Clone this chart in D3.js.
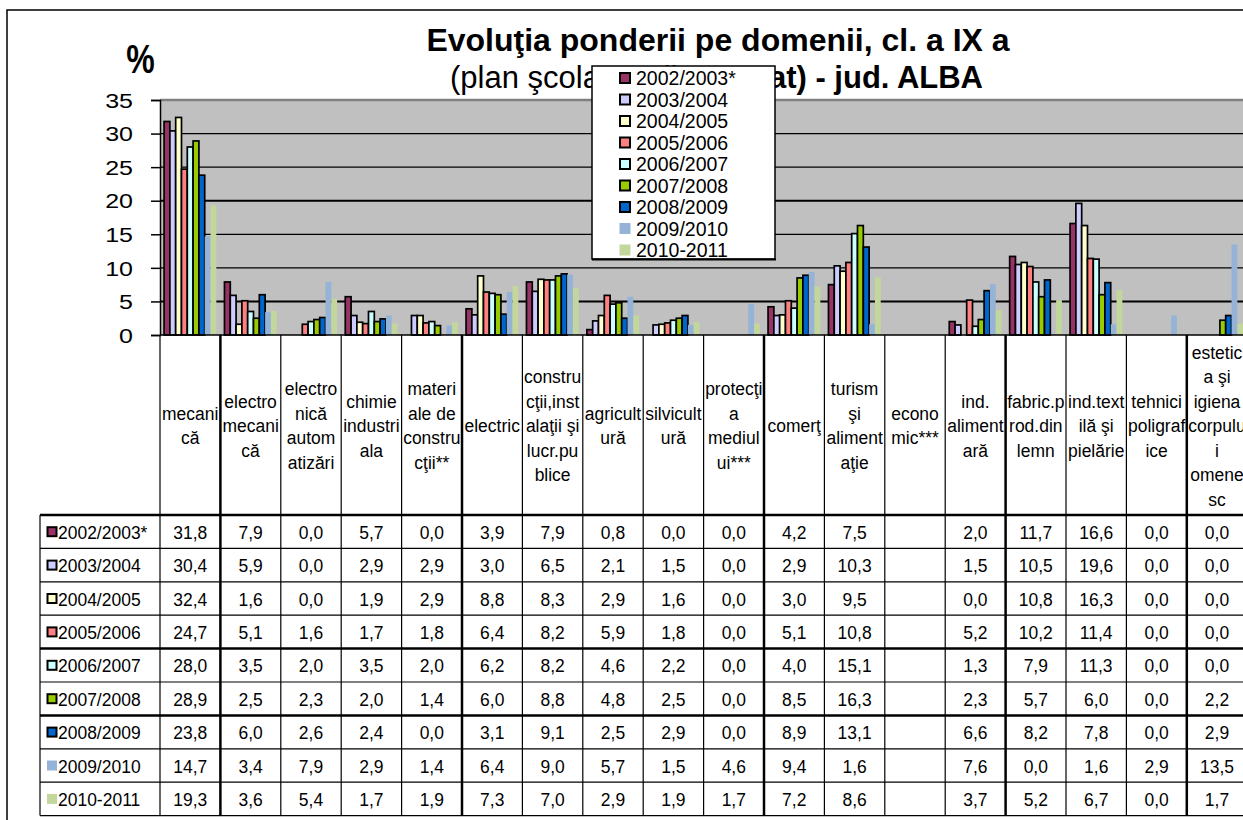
<!DOCTYPE html>
<html>
<head>
<meta charset="utf-8">
<script src="https://cdn.jsdelivr.net/npm/d3@7"></script>
<style>
  body { margin: 0; background: #fff; }
  svg { display: block; }
  text { font-family: Arial, "Liberation Sans", sans-serif; fill: #000; }
</style>
</head>
<body>
<div id="chart"></div>
<script>
// domenii (header text already broken into lines like in the sheet)
let domains = [
  ['mecani', 'că'],
  ['electro', 'mecani', 'că'],
  ['electro', 'nică', 'autom', 'atizări'],
  ['chimie', 'industri', 'ala'],
  ['materi', 'ale de', 'constru', 'cţii**'],
  ['electric'],
  ['constru', 'cţii,inst', 'alaţii şi', 'lucr.pu', 'blice'],
  ['agricult', 'ură'],
  ['silvicult', 'ură'],
  ['protecţi', 'a', 'mediul', 'ui***'],
  ['comerţ'],
  ['turism', 'şi', 'aliment', 'aţie'],
  ['econo', 'mic***'],
  ['ind.', 'aliment', 'ară'],
  ['fabric.p', 'rod.din', 'lemn'],
  ['ind.text', 'ilă şi', 'pielărie'],
  ['tehnici', 'poligraf', 'ice'],
  ['estetic', 'a şi', 'igiena', 'corpulu', 'i', 'omene', 'sc']
];

let seasons = ['2002/2003*', '2003/2004', '2004/2005', '2005/2006', '2006/2007',
               '2007/2008', '2008/2009', '2009/2010', '2010-2011'];
let seasonColors = ['#993366', '#ccccff', '#ffffcc', '#ff8080', '#ccffff',
                    '#99cc00', '#0066cc', '#95b3d7', '#c3d69b'];
let outlined = [true, true, true, true, true, true, true, false, false];

let yTicks = [0, 5, 10, 15, 20, 25, 30, 35];

// % per domain, null = no data (economic)
let v2002 = [31.8, 7.9, 0.0, 5.7, 0.0, 3.9, 7.9, 0.8, 0.0, 0.0, 4.2, 7.5, null, 2.0, 11.7, 16.6, 0.0, 0.0];
let v2003 = [30.4, 5.9, 0.0, 2.9, 2.9, 3.0, 6.5, 2.1, 1.5, 0.0, 2.9, 10.3, null, 1.5, 10.5, 19.6, 0.0, 0.0];
let v2004 = [32.4, 1.6, 0.0, 1.9, 2.9, 8.8, 8.3, 2.9, 1.6, 0.0, 3.0, 9.5, null, 0.0, 10.8, 16.3, 0.0, 0.0];
let v2005 = [24.7, 5.1, 1.6, 1.7, 1.8, 6.4, 8.2, 5.9, 1.8, 0.0, 5.1, 10.8, null, 5.2, 10.2, 11.4, 0.0, 0.0];
let v2006 = [28.0, 3.5, 2.0, 3.5, 2.0, 6.2, 8.2, 4.6, 2.2, 0.0, 4.0, 15.1, null, 1.3, 7.9, 11.3, 0.0, 0.0];
let v2007 = [28.9, 2.5, 2.3, 2.0, 1.4, 6.0, 8.8, 4.8, 2.5, 0.0, 8.5, 16.3, null, 2.3, 5.7, 6.0, 0.0, 2.2];
let v2008 = [23.8, 6.0, 2.6, 2.4, 0.0, 3.1, 9.1, 2.5, 2.9, 0.0, 8.9, 13.1, null, 6.6, 8.2, 7.8, 0.0, 2.9];
let v2009 = [14.7, 3.4, 7.9, 2.9, 1.4, 6.4, 9.0, 5.7, 1.5, 4.6, 9.4, 1.6, null, 7.6, 0.0, 1.6, 2.9, 13.5];
let v2010 = [19.3, 3.6, 5.4, 1.7, 1.9, 7.3, 7.0, 2.9, 1.9, 1.7, 7.2, 8.6, null, 3.7, 5.2, 6.7, 0.0, 1.7];

let values = [v2002, v2003, v2004, v2005, v2006, v2007, v2008, v2009, v2010];

let width = 1243, height = 820;
let plot = {left: 160, top: 100, bottom: 335, col: 60.4};
let table = {left: 40, headBottom: 515, rowH: 33.4};

let fmt = d3.formatLocale({decimal: ',', thousands: '.', grouping: [3], currency: ['', '']}).format('.1f');

let svg = d3.select('#chart').append('svg').attr('width', width).attr('height', height);

let x0 = d3.scaleBand()
    .domain(d3.range(domains.length))
    .range([plot.left, plot.left + domains.length * plot.col]);
let x1 = d3.scaleBand()
    .domain(seasons)
    .range([0, x0.bandwidth()])
    .paddingInner(0)
    .paddingOuter(0.7);
let y = d3.scaleLinear().domain([0, 35]).range([plot.bottom, plot.top]);
let rowY = d3.scaleBand()
    .domain(seasons)
    .range([table.headBottom, table.headBottom + seasons.length * table.rowH]);

let plotRight = x0.range()[1];

// outer frame of the chart object
svg.append('path')
    .attr('d', `M7,${height}V10H${width}`)
    .attr('fill', 'none')
    .attr('stroke', '#000')
    .attr('stroke-width', 1.5);

// plot area
svg.append('rect')
    .attr('x', plot.left).attr('y', plot.top)
    .attr('width', plotRight - plot.left).attr('height', plot.bottom - plot.top)
    .attr('fill', '#c0c0c0');
svg.append('line')
    .attr('x1', plot.left).attr('x2', plotRight)
    .attr('y1', plot.top).attr('y2', plot.top)
    .attr('stroke', '#808080').attr('stroke-width', 2.5);

svg.append('g')
    .selectAll('line')
    .data(yTicks.filter(t => t > 0 && t < 35))
    .join('line')
    .attr('x1', plot.left).attr('x2', plotRight)
    .attr('y1', d => y(d)).attr('y2', d => y(d))
    .attr('stroke', '#000')
    .attr('stroke-width', d => (d === 5 || d === 20) ? 2 : 1.2);

// bars
values.forEach((vals, i) => {
    svg.append('g')
        .selectAll('rect')
        .data(vals.map((v, j) => ({v: v, j: j})).filter(d => d.v !== null && d.v > 0))
        .join('rect')
        .attr('x', d => x0(d.j) + x1(seasons[i]))
        .attr('y', d => y(d.v))
        .attr('width', x1.bandwidth())
        .attr('height', d => y(0) - y(d.v))
        .attr('fill', seasonColors[i])
        .attr('stroke', outlined[i] ? '#000' : 'none')
        .attr('stroke-width', 1.7);
});

// y axis
let yAxis = svg.append('g')
    .attr('transform', `translate(${plot.left},0)`)
    .call(d3.axisLeft(y).tickValues(yTicks).tickSize(9).tickPadding(0));
yAxis.select('.domain').attr('stroke', '#000').attr('stroke-width', 1.5);
yAxis.selectAll('.tick line').attr('stroke', '#000').attr('stroke-width', 1.5);
yAxis.selectAll('.tick text')
    .attr('font-size', 20)
    .attr('font-family', 'Arial, "Liberation Sans", sans-serif')
    .attr('dy', '0.36em')
    .attr('x', -27 / 1.25)
    .attr('transform', 'scale(1.25,1)');

svg.append('line')
    .attr('x1', plot.left).attr('x2', plotRight)
    .attr('y1', plot.bottom).attr('y2', plot.bottom)
    .attr('stroke', '#000').attr('stroke-width', 1.5);

svg.append('text')
    .attr('transform', 'translate(140.5,73) scale(0.8,1)')
    .attr('text-anchor', 'middle')
    .attr('font-size', 40)
    .attr('font-weight', 'bold')
    .text('%');

// title
svg.append('text')
    .attr('x', 718).attr('y', 51)
    .attr('text-anchor', 'middle')
    .attr('font-size', 32)
    .attr('font-weight', 'bold')
    .text('Evoluţia ponderii pe domenii, cl. a IX a');
svg.append('text')
    .attr('x', 450).attr('y', 88)
    .attr('font-size', 31)
    .text('(plan şcolar realiz');
svg.append('text')
    .attr('x', 983).attr('y', 88)
    .attr('text-anchor', 'end')
    .attr('font-size', 31)
    .attr('font-weight', 'bold')
    .text('at) - jud. ALBA');

// data table grid
let thickCols = [1, 5, 10, 14, 17];
let thickRows = [0, 4, 6];
let tableBottom = rowY.range()[1];

svg.append('g')
    .selectAll('line')
    .data(d3.range(domains.length + 1))
    .join('line')
    .attr('x1', d => plot.left + d * plot.col).attr('x2', d => plot.left + d * plot.col)
    .attr('y1', plot.bottom).attr('y2', tableBottom)
    .attr('stroke', '#000')
    .attr('stroke-width', d => thickCols.includes(d) ? 2.5 : 1.2);

svg.append('line')
    .attr('x1', table.left).attr('x2', table.left)
    .attr('y1', table.headBottom).attr('y2', tableBottom)
    .attr('stroke', '#000').attr('stroke-width', 1.2);

svg.append('g')
    .selectAll('line')
    .data(d3.range(seasons.length + 1))
    .join('line')
    .attr('x1', table.left).attr('x2', plotRight)
    .attr('y1', d => table.headBottom + d * table.rowH).attr('y2', d => table.headBottom + d * table.rowH)
    .attr('stroke', '#000')
    .attr('stroke-width', d => thickRows.includes(d) ? 2.5 : 1.2);

// header labels
let headMid = (plot.bottom + table.headBottom) / 2 + 1;
domains.forEach((lines, j) => {
    let cx = x0(j) + x0.bandwidth() / 2;
    svg.append('g')
        .selectAll('text')
        .data(lines)
        .join('text')
        .attr('transform', (d, k) => `translate(${cx},${headMid + (k - (lines.length - 1) / 2) * 24.5 + 6}) scale(0.92,1)`)
        .attr('text-anchor', 'middle')
        .attr('font-size', 19)
        .text(d => d);
});

// row labels with keys
let rows = svg.append('g')
    .selectAll('g')
    .data(seasons)
    .join('g')
    .attr('transform', d => `translate(0,${rowY(d) + rowY.bandwidth() / 2})`);
rows.append('rect')
    .attr('x', (d, i) => outlined[i] ? 47.5 : 47)
    .attr('y', (d, i) => outlined[i] ? -4.5 : -5)
    .attr('width', (d, i) => outlined[i] ? 9 : 10)
    .attr('height', (d, i) => outlined[i] ? 9 : 10)
    .attr('fill', (d, i) => seasonColors[i])
    .attr('stroke', (d, i) => outlined[i] ? '#000' : 'none')
    .attr('stroke-width', 2);
rows.append('text')
    .attr('transform', 'translate(58,7) scale(0.92,1)')
    .attr('font-size', 19)
    .text(d => d);

// table values
values.forEach((vals, i) => {
    svg.append('g')
        .selectAll('text')
        .data(vals.map((v, j) => ({v: v, j: j})).filter(d => d.v !== null))
        .join('text')
        .attr('transform', d => `translate(${x0(d.j) + x0.bandwidth() / 2},${rowY(seasons[i]) + rowY.bandwidth() / 2 + 7}) scale(0.92,1)`)
        .attr('text-anchor', 'middle')
        .attr('font-size', 19)
        .text(d => fmt(d.v));
});

// legend
let legend = svg.append('g').attr('transform', 'translate(592,66)');
legend.append('rect')
    .attr('width', 183).attr('height', 193)
    .attr('fill', '#fff')
    .attr('stroke', '#000').attr('stroke-width', 1.5);
legend.append('line')
    .attr('x1', 0).attr('x2', 184).attr('y1', 193.5).attr('y2', 193.5)
    .attr('stroke', '#000').attr('stroke-width', 2);
let items = legend.selectAll('g.item')
    .data(seasons)
    .join('g')
    .attr('class', 'item')
    .attr('transform', (d, i) => `translate(0,${12 + i * 21.5})`);
items.append('rect')
    .attr('x', (d, i) => outlined[i] ? 28 : 27.5)
    .attr('y', (d, i) => outlined[i] ? -5 : -5.5)
    .attr('width', (d, i) => outlined[i] ? 10 : 11)
    .attr('height', (d, i) => outlined[i] ? 10 : 11)
    .attr('fill', (d, i) => seasonColors[i])
    .attr('stroke', (d, i) => outlined[i] ? '#000' : 'none')
    .attr('stroke-width', 2);
items.append('text')
    .attr('x', 44).attr('y', 7)
    .attr('font-size', 19.5)
    .text(d => d);
</script>
</body>
</html>
